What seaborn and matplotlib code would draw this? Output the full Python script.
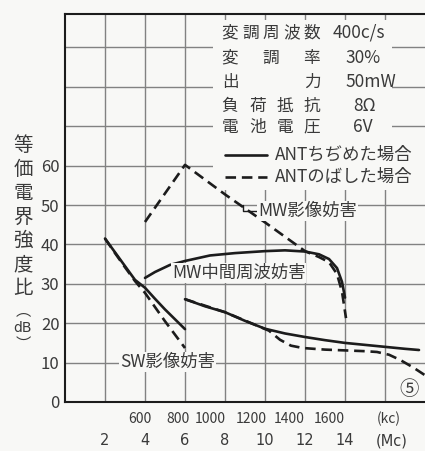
import matplotlib
matplotlib.use("Agg")
import matplotlib.pyplot as plt
from matplotlib.patches import Rectangle
import seaborn as sns

# x axis in Mc (the kc scale is a second label row)
sw_solid_x = [2, 2.5, 3, 3.5, 4, 4.5, 5, 5.5, 6]
sw_solid_y = [41.5, 38, 34.5, 31, 29, 26.2, 23.5, 21, 18.5]
sw_dash_x = [2, 2.5, 3, 3.5, 4, 5, 6]
sw_dash_y = [41.5, 37.8, 34.2, 30.7, 27.7, 20.5, 13.7]

if_solid_x = [4, 4.5, 5.25, 6, 7.25, 8.5, 10, 11, 12, 12.7, 13.2, 13.6, 13.85, 14]
if_solid_y = [31.5, 33, 34.8, 35.8, 37.2, 37.8, 38.3, 38.5, 38.2, 37.5, 36.3, 34, 30.5, 26.5]

img_dash_x = [4, 6, 8, 10, 12, 12.7, 13.2, 13.6, 13.85, 14.05]
img_dash_y = [45.7, 60.2, 52.7, 45.6, 38.3, 36.8, 35.5, 32.5, 28, 21.3]

low_solid_x = [6, 7, 8, 9, 10, 11, 12, 13, 14, 15, 16, 17, 17.7]
low_solid_y = [26.1, 24.3, 22.8, 20.6, 18.6, 17.4, 16.5, 15.7, 15, 14.5, 14, 13.5, 13.2]
low_dash_x = [6, 8, 9.5, 10.2, 10.75, 11.3, 11.9, 13, 14, 15, 15.6, 16.2, 16.75, 17.4, 18]
low_dash_y = [26.1, 22.8, 19.6, 18.1, 15.8, 14.3, 13.7, 13.3, 13.1, 12.9, 12.7, 12, 10.7, 8.8, 6.8]

mc_ticks = [2, 4, 6, 8, 10, 12, 14, 16.35]
mc_labels = ["2", "4", "6", "8", "10", "12", "14", "(Mc)"]
kc_ticks = [3.75, 5.65, 7.25, 9.3, 11.2, 13.2, 16.2]
kc_labels = ["600", "800", "1000", "1200", "1400", "1600", "(kc)"]
y_ticks = [0, 10, 20, 30, 40, 50, 60, 70, 80, 90]
y_labels = ["0", "10", "20", "30", "40", "50", "60", "", "", ""]

param_names = ["変調周波数", "変調率", "出力", "負荷抵抗", "電池電圧"]
param_values = ["400c/s", "30%", "50mW", "8Ω", "6V"]
legend_names = ["ANTちぢめた場合", "ANTのばした場合"]

sns.set_theme(style="white")
CJK = ["Noto Sans CJK JP", "DejaVu Sans"]
plt.rcParams["font.family"] = CJK

ink = "#1c1c1c"
txt = "#3a3a3a"
paper = "#f8f8f6"
gridc = "#828282"

fig = plt.figure(figsize=(4.25, 4.51), dpi=100, facecolor=paper)
ax = fig.add_axes([65 / 425, 49 / 451, 360 / 425, 388 / 451])
ax.set_facecolor(paper)
ax.set_axisbelow(True)

dash = (4, 2.2)
lw = 1.9
sns.lineplot(x=sw_solid_x, y=sw_solid_y, ax=ax, color=ink, lw=lw, sort=False, estimator=None)
sns.lineplot(x=sw_dash_x, y=sw_dash_y, ax=ax, color=ink, lw=lw, sort=False, estimator=None).lines[-1].set_dashes(dash)
sns.lineplot(x=if_solid_x, y=if_solid_y, ax=ax, color=ink, lw=lw, sort=False, estimator=None)
sns.lineplot(x=img_dash_x, y=img_dash_y, ax=ax, color=ink, lw=lw, sort=False, estimator=None).lines[-1].set_dashes(dash)
sns.lineplot(x=low_solid_x, y=low_solid_y, ax=ax, color=ink, lw=lw, sort=False, estimator=None)
sns.lineplot(x=low_dash_x, y=low_dash_y, ax=ax, color=ink, lw=lw, sort=False, estimator=None).lines[-1].set_dashes(dash)

ax.set_xlim(0, 18)
ax.set_ylim(0, 98.5)

# grid
ax.xaxis.remove_overlapping_locs = False
ax.set_xticks([2, 4, 6, 8, 10, 12, 14, 16], minor=True)
ax.set_xticks(mc_ticks, labels=mc_labels)
ax.set_yticks(y_ticks, labels=y_labels)
ax.grid(which="minor", axis="x", color=gridc, lw=1.0)
ax.grid(which="major", axis="y", color=gridc, lw=1.0)
ax.grid(which="major", axis="x", visible=False)
ax.tick_params(which="both", length=0)
ax.tick_params(axis="x", pad=22.5, labelsize=10.5, labelcolor=txt)
ax.tick_params(axis="y", pad=4, labelsize=12, labelcolor=txt)
for lab in ax.get_xticklabels():
    lab.set_family("DejaVu Sans")

sec = ax.secondary_xaxis("bottom")
sec.set_xticks(kc_ticks, labels=kc_labels)
sec.tick_params(length=0, pad=7, labelsize=10, labelcolor=txt)
sec.spines["bottom"].set_visible(False)

for s in ["left", "bottom", "top"]:
    ax.spines[s].set_color(ink)
    ax.spines[s].set_linewidth(1.5)
ax.spines["right"].set_visible(False)

# parameter block (grid is hidden behind it)
ax.add_patch(Rectangle((7.4, 66.5), 8.95, 30.5, facecolor=paper, edgecolor="none", zorder=1))
ax.add_patch(Rectangle((7.4, 53.8), 10.6, 12.8, facecolor=paper, edgecolor="none", zorder=1))

row_y = [93.7, 87.3, 81.2, 75.1, 69.8]
val_x = [13.4, 14.0, 14.0, 14.4, 14.4]
x0, x1 = 8.25, 12.35
for name, val, yy, vx in zip(param_names, param_values, row_y, val_x):
    n = len(name)
    for i, ch in enumerate(name):
        cx = x0 + (x1 - x0) * i / (n - 1)
        ax.text(cx, yy, ch, ha="center", va="center", fontsize=12, color=txt, zorder=3)
    ax.text(vx, yy, val, ha="left", va="center", fontsize=12.5, color=txt, zorder=3)

leg_y = [62.7, 57.1]
ax.plot([8.0, 10.1], [leg_y[0]] * 2, color=ink, lw=lw, zorder=3)
ax.plot([8.0, 10.1], [leg_y[1]] * 2, color=ink, lw=lw, dashes=dash, zorder=3)
for name, yy in zip(legend_names, leg_y):
    ax.text(10.5, yy, name, ha="left", va="center", fontsize=12.5, color=txt, zorder=3)

# curve labels
box = dict(facecolor=paper, edgecolor="none", pad=0.6)
ax.annotate("MW影像妨害", xy=(8.9, 49.9), xytext=(9.65, 48.4), ha="left", va="center",
            fontsize=12.5, color=txt, bbox=box, zorder=3,
            arrowprops=dict(arrowstyle="-", color=ink, lw=1.0, shrinkA=0, shrinkB=0,
                            connectionstyle="angle,angleA=180,angleB=90,rad=0"))
ax.text(5.35, 32.7, "MW中間周波妨害", ha="left", va="center", fontsize=12.5,
        color=txt, bbox=box, zorder=3)
ax.text(2.75, 10.15, "SW影像妨害", ha="left", va="center", fontsize=12.5,
        color=txt, bbox=box, zorder=3)
ax.text(17.2, 3.2, "⑤", ha="center", va="center", fontsize=14, color=txt, zorder=3)

# vertical y-axis caption
fig.text(23 / 425, 1 - 217 / 451, "\n".join("等価電界強度比"), ha="center", va="center",
         fontsize=14, linespacing=1.17, color=txt)
fig.text(23 / 425, 1 - 311 / 451, "︵", ha="center", va="center", fontsize=11, color=txt)
fig.text(23 / 425, 1 - 328 / 451, "dB", ha="center", va="center", fontsize=10,
         color=txt, family="DejaVu Sans")
fig.text(23 / 425, 1 - 344 / 451, "︶", ha="center", va="center", fontsize=11, color=txt)

fig.savefig("out.png", dpi=100, facecolor=paper)
